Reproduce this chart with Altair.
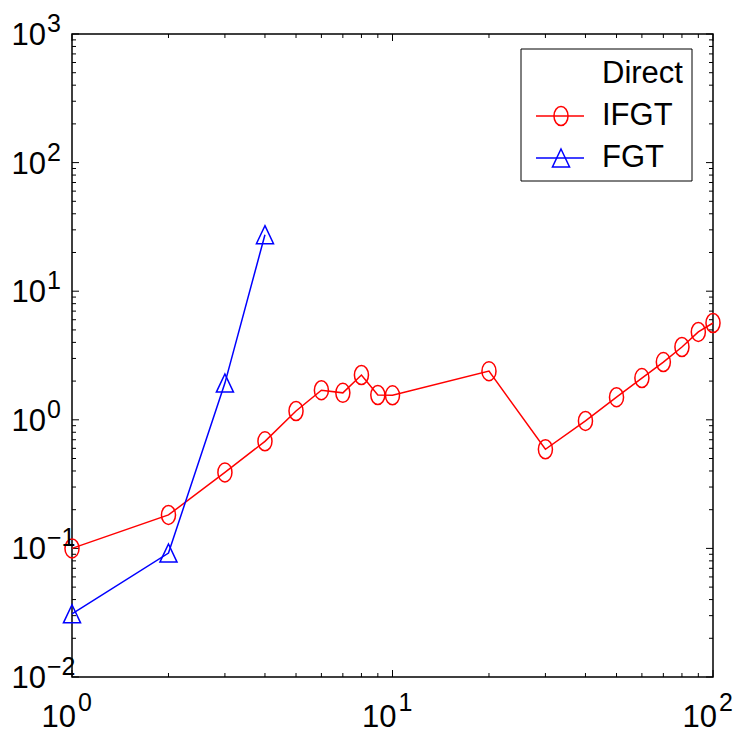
import altair as alt
import pandas as pd

# ---- data ----
ifgt_x = [1, 2, 3, 4, 5, 6, 7, 8, 9, 10, 20, 30, 40, 50, 60, 70, 80, 90, 100]
ifgt_y = [0.10, 0.182, 0.39, 0.68, 1.17, 1.70, 1.62, 2.23, 1.56, 1.55, 2.39,
          0.59, 0.98, 1.50, 2.11, 2.81, 3.68, 4.82, 5.66]
fgt_x = [1, 2, 3, 4]
fgt_y = [0.031, 0.092, 1.93, 27.5]
series_names = ["IFGT", "FGT"]
series_colors = ["#ff0000", "#0000ff"]
legend_labels = ["Direct", "IFGT", "FGT"]

x_major = [1, 10, 100]
x_minor = [2, 3, 4, 5, 6, 7, 8, 9, 20, 30, 40, 50, 60, 70, 80, 90]
y_major = [0.01, 0.1, 1, 10, 100, 1000]
y_minor = [m * d for d in [0.01, 0.1, 1, 10, 100] for m in range(2, 10)]
x_exp = ["0", "1", "2"]
y_exp = ["\u22122", "\u22121", "0", "1", "2", "3"]

W, H = 641, 643
FONT = "Liberation Sans, Arial, Helvetica"
BIG, SMALL = 31, 25

ELLIPSE = "M-0.74,0A0.74,1 0 1,1 0.74,0A0.74,1 0 1,1 -0.74,0Z"
TRIANGLE = "M0,-0.95L0.9,0.95L-0.9,0.95Z"

df = pd.concat([
    pd.DataFrame({"x": ifgt_x, "y": ifgt_y, "s": "IFGT"}),
    pd.DataFrame({"x": fgt_x, "y": fgt_y, "s": "FGT"}),
])

xs = alt.Scale(type="log", domain=[1, 100], nice=False)
ys = alt.Scale(type="log", domain=[0.01, 1000], nice=False)
X = alt.X("x:Q", scale=xs, axis=None)
Y = alt.Y("y:Q", scale=ys, axis=None)
col = alt.Color("s:N", scale=alt.Scale(domain=series_names, range=series_colors), legend=None)

lines = alt.Chart(df).mark_line(strokeWidth=1.5).encode(x=X, y=Y, color=col, detail="s:N")
points = alt.Chart(df).mark_point(filled=False, size=361, strokeWidth=1.5, opacity=1).encode(
    x=X, y=Y, color=col,
    shape=alt.Shape("s:N", scale=alt.Scale(domain=series_names, range=[ELLIPSE, TRIANGLE]), legend=None),
)

# ---- frame ----
one = pd.DataFrame({"k": [0]})
frame = alt.Chart(one).mark_rect(fill=None, stroke="black", strokeWidth=1.5).encode(
    x=alt.value(0), x2=alt.value(W), y=alt.value(0), y2=alt.value(H))

# ---- inner ticks (MATLAB style) ----
def xticks(vals, ln):
    d = pd.DataFrame({"x": vals})
    b = alt.Chart(d).mark_rule(color="black", strokeWidth=1).encode(
        x=alt.X("x:Q", scale=xs, axis=None), y=alt.value(H), y2=alt.value(H - ln))
    t = alt.Chart(d).mark_rule(color="black", strokeWidth=1).encode(
        x=alt.X("x:Q", scale=xs, axis=None), y=alt.value(0), y2=alt.value(ln))
    return b + t

def yticks(vals, ln):
    d = pd.DataFrame({"y": vals})
    l = alt.Chart(d).mark_rule(color="black", strokeWidth=1).encode(
        y=alt.Y("y:Q", scale=ys, axis=None), x=alt.value(0), x2=alt.value(ln))
    r = alt.Chart(d).mark_rule(color="black", strokeWidth=1).encode(
        y=alt.Y("y:Q", scale=ys, axis=None), x=alt.value(W), x2=alt.value(W - ln))
    return l + r

ticks = xticks(x_major, 7) + xticks(x_minor, 4) + yticks(y_major, 7) + yticks(y_minor, 4)

# ---- tick labels 10^n ----
xl = pd.DataFrame({"x": x_major, "e": x_exp})
yl = pd.DataFrame({"y": y_major, "e": y_exp})
xbase = alt.Chart(xl).mark_text(text="10", font=FONT, fontSize=BIG, align="right",
                                baseline="alphabetic", dx=4).encode(
    x=alt.X("x:Q", scale=xs, axis=None), y=alt.value(H + 50))
xsup = alt.Chart(xl).mark_text(font=FONT, fontSize=SMALL, align="left",
                               baseline="alphabetic", dx=6).encode(
    x=alt.X("x:Q", scale=xs, axis=None), y=alt.value(H + 34), text="e:N")
ybase = alt.Chart(yl).mark_text(text="10", font=FONT, fontSize=BIG, align="right",
                                baseline="alphabetic", dy=11).encode(
    y=alt.Y("y:Q", scale=ys, axis=None), x=alt.value(-26))
ysup = alt.Chart(yl).mark_text(font=FONT, fontSize=SMALL, align="left",
                               baseline="alphabetic", dy=-2).encode(
    y=alt.Y("y:Q", scale=ys, axis=None), x=alt.value(-25), text="e:N")

# ---- legend ----
box = alt.Chart(one).mark_rect(fill="white", stroke="black", strokeWidth=1).encode(
    x=alt.value(449), x2=alt.value(620), y=alt.value(15), y2=alt.value(147))
leg = box
ys_leg = [40, 82, 124]
for i, lab in enumerate(legend_labels):
    leg = leg + alt.Chart(one).mark_text(text=lab, font=FONT, fontSize=BIG, align="left",
                                         baseline="middle").encode(
        x=alt.value(530), y=alt.value(ys_leg[i]))
for i, (c, shp) in enumerate(zip(series_colors, [ELLIPSE, TRIANGLE])):
    yy = ys_leg[i + 1]
    leg = leg + alt.Chart(one).mark_rule(color=c, strokeWidth=1.5).encode(
        x=alt.value(464), x2=alt.value(512), y=alt.value(yy))
    leg = leg + alt.Chart(one).mark_point(shape=shp, size=361, filled=False, color=c,
                                          strokeWidth=1.5, opacity=1).encode(
        x=alt.value(489), y=alt.value(yy))

chart = alt.layer(frame, ticks, lines, points, xbase, xsup, ybase, ysup, leg).properties(
    width=W, height=H,
    background="white",
    autosize=alt.AutoSizeParams(type="none"),
    padding={"left": 72, "top": 34, "right": 27, "bottom": 57},
).configure_view(stroke=None)

chart.save("out.html", embed_options={"renderer": "svg", "actions": False})
